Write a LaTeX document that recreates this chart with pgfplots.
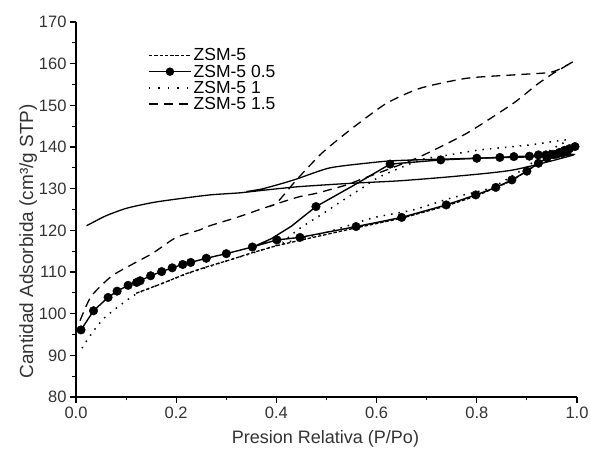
\documentclass[border=0pt]{standalone}
\usepackage{fontspec}
\setmainfont{Liberation Sans}
\usepackage{pgfplots}
\pgfplotsset{compat=1.18}

\begin{document}
\begin{tikzpicture}
\path[use as bounding box] (-76pt,-53pt) rectangle (514pt,397pt);
\begin{axis}[
  scale only axis, width=501pt, height=375pt,
  xmin=0, xmax=1, ymin=80, ymax=170,
  axis x line*=bottom, axis y line*=left,
  axis line style={line width=1.1pt},
  xtick={0,0.2,0.4,0.6,0.8,1.0},
  ytick={80,90,100,110,120,130,140,150,160,170},
  minor x tick num=1, minor y tick num=1,
  tick align=outside,
  major tick length=6pt, minor tick length=3.5pt,
  every tick/.style={black, line width=1.1pt},
  /pgf/number format/assume math mode=true,
  tick label style={font=\fontsize{16.5}{18}\selectfont, text=black!80},
  x tick label style={/pgf/number format/.cd, fixed, fixed zerofill, precision=1},
  xlabel={Presion Relativa (P/Po)},
  ylabel={Cantidad Adsorbida (cm³/g STP)},
  label style={font=\fontsize{18}{20}\selectfont, text=black!80},
  xlabel style={at={(axis description cs:0.498,-0.1253)}, anchor=base},
  ylabel style={at={(axis description cs:-0.0858,0.415)}, anchor=base, font=\fontsize{19}{20}\selectfont},
  legend style={draw=none, fill=none, at={(axis description cs:0.1437,0.935)},
    anchor=north west, font=\fontsize{17.5}{17.5}\selectfont, row sep=-1.5pt,
    cells={anchor=west}, inner sep=0pt},
  legend image code/.code={\draw[mark repeat=2,mark phase=2,#1]
    plot coordinates {(0pt,0pt) (21pt,0pt) (42pt,0pt)};},
]
\addlegendimage{black, line width=1.3pt, dash pattern=on 3.5pt off 1.8pt}
\addlegendentry{ZSM-5}
\addlegendimage{black, line width=1.4pt, mark=*, mark size=3.5pt}
\addlegendentry{ZSM-5 0.5}
\addlegendimage{black, line width=1.5pt, dash pattern=on 1.5pt off 8pt}
\addlegendentry{ZSM-5 1}
\addlegendimage{black, line width=1.3pt, dash pattern=on 9pt off 6pt}
\addlegendentry{ZSM-5 1.5}

% solid curve (no legend entry)
\addplot[forget plot, black, line width=1.3pt, smooth, tension=0.4] coordinates {
(0.021,121.1) (0.06,123.5) (0.101,125.3) (0.15,126.6) (0.188,127.3)
(0.267,128.5) (0.327,129.0) (0.38,129.7) (0.447,130.5) (0.55,131.3)
(0.647,131.9) (0.76,133.0) (0.873,134.5) (0.993,138.1)
(0.95,137.9) (0.9,137.6) (0.8,137.3) (0.7,137.0) (0.633,136.7)
(0.594,136.3) (0.507,135.0) (0.44,132.3) (0.407,131.1) (0.37,129.9) (0.34,129.3)};

% ZSM-5
\addplot[forget plot, black, line width=1.3pt, dash pattern=on 3.5pt off 1.8pt] coordinates {
(0.12,104.9) (0.173,107.3) (0.22,109.6) (0.26,111.2) (0.307,112.9) (0.351,114.6)
(0.40,116.3) (0.447,117.6) (0.559,120.6) (0.65,122.9) (0.74,125.9) (0.80,128.3)
(0.87,131.9) (0.92,135.9) (0.96,138.6) (0.99,139.8)};

% ZSM-5 1
\addplot[forget plot, black, line width=1.5pt, dash pattern=on 1.5pt off 6pt, smooth, tension=0.4] coordinates {
(0.012,91.7) (0.023,93.8) (0.039,96.5) (0.056,98.9) (0.077,101.0) (0.098,102.9)
(0.123,104.9) (0.173,107.3) (0.22,109.5) (0.307,112.9) (0.351,114.5) (0.413,116.9)
(0.5,119.5) (0.593,123.0) (0.673,124.9) (0.75,127.8) (0.826,130.1) (0.88,133.7)
(0.92,137.0) (0.95,139.5) (0.98,141.7)
(0.906,140.5) (0.806,139.3) (0.73,137.8) (0.687,136.9) (0.607,132.9) (0.573,130.3)
(0.53,127.0) (0.494,124.1) (0.447,120.5) (0.413,117.2)};

% ZSM-5 1.5
\addplot[forget plot, black, line width=1.3pt, dash pattern=on 9pt off 6pt, smooth, tension=0.4] coordinates {
(0.008,98.3) (0.03,104.1) (0.07,108.9) (0.11,111.7) (0.153,114.5) (0.2,118.3)
(0.247,120.1) (0.267,121.1) (0.321,123.1) (0.374,125.3) (0.414,126.9) (0.447,128.1)
(0.48,128.9) (0.54,130.9) (0.57,132.3) (0.62,134.5) (0.687,137.7) (0.78,143.3)
(0.873,150.5) (0.919,154.9) (0.953,157.7) (0.993,160.5)
(0.96,158.4) (0.939,157.8) (0.873,157.3) (0.78,156.5) (0.687,154.1) (0.62,150.5)
(0.56,145.3) (0.52,141.5) (0.487,138.1) (0.44,132.1) (0.40,126.5) (0.38,125.6)};

% ZSM-5 0.5 line
\addplot[forget plot, black, line width=1.4pt] coordinates {
(0.010,96.1) (0.035,100.7) (0.064,103.9) (0.082,105.4) (0.104,106.8) (0.121,107.5)
(0.128,107.9) (0.149,109.1) (0.171,110.1) (0.192,111.0) (0.213,111.8) (0.229,112.3)
(0.260,113.3) (0.300,114.4) (0.352,116.0) (0.401,117.7) (0.447,118.3) (0.559,120.9)
(0.650,123.1) (0.739,126.1) (0.798,128.5) (0.838,130.3) (0.870,132.1) (0.900,134.2)
(0.923,136.1) (0.94,137.4) (0.955,138.2) (0.965,138.7) (0.975,139.2) (0.985,139.6)
(0.996,140.1)
(0.98,138.8) (0.97,138.5) (0.96,138.3) (0.95,138.2) (0.938,138.1) (0.923,138.1)
(0.905,137.8) (0.874,137.7) (0.846,137.5) (0.80,137.3) (0.728,136.9) (0.627,135.9)
(0.55,130.5) (0.479,125.7) (0.43,121.0) (0.39,118.0) (0.355,116.1)};

% ZSM-5 0.5 markers
\addplot[forget plot, only marks, mark=*, mark size=4.3pt, black] coordinates {
(0.010,96.1) (0.035,100.7) (0.064,103.9) (0.082,105.4) (0.104,106.8) (0.121,107.5)
(0.128,107.9) (0.149,109.1) (0.171,110.1) (0.192,111.0) (0.213,111.8) (0.229,112.3)
(0.260,113.3) (0.300,114.4) (0.352,116.0) (0.401,117.7) (0.447,118.3) (0.559,120.9)
(0.650,123.1) (0.739,126.1) (0.798,128.5) (0.838,130.3) (0.870,132.1) (0.900,134.2)
(0.923,136.1) (0.94,137.4) (0.955,138.2) (0.965,138.7) (0.975,139.2) (0.985,139.6)
(0.996,140.1)
(0.98,138.8) (0.97,138.5) (0.96,138.3) (0.95,138.2) (0.938,138.1) (0.923,138.1)
(0.905,137.8) (0.874,137.7) (0.846,137.5) (0.80,137.3) (0.728,136.9) (0.627,135.9)
(0.479,125.7)};
\end{axis}
\end{tikzpicture}
\end{document}
